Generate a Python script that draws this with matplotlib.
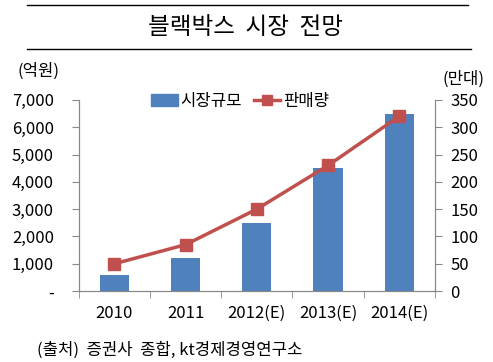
import matplotlib
matplotlib.use("Agg")
import matplotlib.pyplot as plt
from matplotlib.lines import Line2D
from matplotlib.ticker import FuncFormatter
import numpy as np

plt.rcParams['font.family'] = ['Noto Sans CJK KR', 'DejaVu Sans']

# --- dados ---
years = ['2010', '2011', '2012(E)', '2013(E)', '2014(E)']
market_size = [600, 1200, 2500, 4500, 6500]      # 억원
sales = [50, 85, 150, 230, 320]                  # 만대
left_ticks = [0, 1000, 2000, 3000, 4000, 5000, 6000, 7000]
right_ticks = [0, 50, 100, 150, 200, 250, 300, 350]

BAR_COLOR = '#4F81BD'
LINE_COLOR = '#C0504D'
FS = 12

fig = plt.figure(figsize=(4.93, 3.62), dpi=100)
ax = fig.add_axes([0.160, 0.196, 0.722, 0.528])
ax2 = ax.twinx()

x = np.arange(len(years))
ax.bar(x, market_size, width=0.41, color=BAR_COLOR, zorder=2)
ax2.plot(x, sales, color=LINE_COLOR, lw=2.5, marker='s', ms=8.5, zorder=3)

ax.set_xlim(-0.5, len(years) - 0.5)
ax.set_ylim(0, 7000)
ax2.set_ylim(0, 350)
ax.set_yticks(left_ticks)
ax2.set_yticks(right_ticks)
ax.yaxis.set_major_formatter(FuncFormatter(lambda v, p: '-' if v == 0 else f'{int(v):,}'))

ax.set_xticks(x)
ax.set_xticklabels(years)
ax.set_xticks(np.arange(len(years) + 1) - 0.5, minor=True)
ax.tick_params(axis='x', which='major', length=0, pad=10, labelsize=FS)
ax.tick_params(axis='x', which='minor', length=5, direction='out', color='#888888')
ax.tick_params(axis='y', length=5, direction='out', color='#888888', labelsize=FS, pad=13)
ax2.tick_params(axis='y', length=5, direction='out', color='#888888', labelsize=FS, pad=6)

for a in (ax, ax2):
    a.spines['top'].set_visible(False)
    for s in ('left', 'right', 'bottom'):
        a.spines[s].set_color('#888888')
ax.set_zorder(ax2.get_zorder() - 1)
ax.patch.set_visible(True)
ax2.patch.set_visible(False)

# legenda
handles = [
    plt.Rectangle((0, 0), 1, 1, color=BAR_COLOR),
    Line2D([0], [0], color=LINE_COLOR, lw=2.5, marker='s', ms=7),
]
fig.legend(handles, ['시장규모', '판매량'], loc='center', bbox_to_anchor=(0.487, 0.72),
           ncol=2, frameon=False, fontsize=FS, handlelength=1.6, handletextpad=0.15,
           columnspacing=0.7)

# título e linhas
fig.add_artist(Line2D([0.055, 0.95], [0.986, 0.986], color='black', lw=1))
fig.add_artist(Line2D([0.055, 0.955], [0.865, 0.865], color='black', lw=1))
fig.text(0.497, 0.925, '블랙박스  시장  전망', ha='center', va='center', fontsize=17)

fig.text(0.035, 0.803, '(억원)', ha='left', va='center', fontsize=FS)
fig.text(0.983, 0.782, '(만대)', ha='right', va='center', fontsize=FS)
fig.text(0.075, 0.033, '(출처)  증권사  종합, kt경제경영연구소', ha='left', va='center', fontsize=FS)

fig.savefig('out.png', dpi=100)
